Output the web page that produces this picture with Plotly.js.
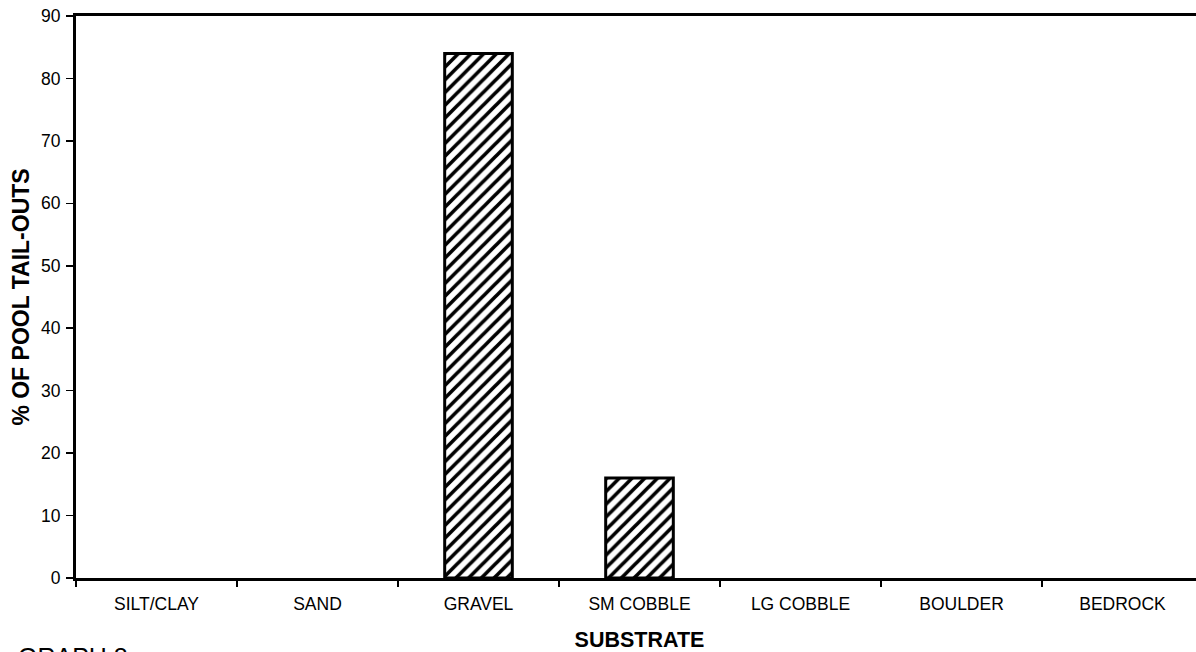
<!DOCTYPE html>
<html><head><meta charset="utf-8">
<script src="https://cdn.plot.ly/plotly-3.0.1.min.js"></script>
<style>html,body{margin:0;padding:0;overflow:hidden;background:#fff;width:1196px;height:652px}</style>
</head><body>
<div id="chart" style="width:1204px;height:652px"></div>
<script>
const categories = ["SILT/CLAY","SAND","GRAVEL","SM COBBLE","LG COBBLE","BOULDER","BEDROCK"];
const values = [0, 0, 84, 16, 0, 0, 0];
const yTicks = [0,10,20,30,40,50,60,70,80,90];

const trace = {
  type: 'bar', x: categories, y: values, width: 0.42,
  marker: { color: '#ffffff', line: {color: '#000', width: values.map(v => v > 0 ? 3 : 0)},
    pattern: {shape: '/', fgcolor: '#000', bgcolor: '#fff', size: 9, solidity: 0.4} },
  hoverinfo: 'none'
};
const layout = {
  width: 1204, height: 652,
  margin: {l: 76, r: 1, t: 16, b: 74},
  paper_bgcolor: '#fff', plot_bgcolor: '#fff',
  font: {family: 'Liberation Sans, Arial, sans-serif', color: '#000'},
  showlegend: false,
  xaxis: {
    type: 'category', tickson: 'boundaries', ticks: 'outside', ticklen: 6, tickwidth: 1.5, tickcolor: '#000',
    showline: true, linewidth: 3, linecolor: '#000', mirror: true, showgrid: false, zeroline: false,
    tickfont: {size: 17.5}, ticklabelstandoff: 8,
    title: {text: 'SUBSTRATE', font: {size: 21.5, weight: 'bold'}, standoff: 19},
    range: [-0.5, 6.5]
  },
  yaxis: {
    range: [0, 90], tickvals: yTicks, ticks: 'outside', ticklen: 7, tickwidth: 1.5, tickcolor: '#000',
    showline: true, linewidth: 3, linecolor: '#000', mirror: true, showgrid: false, zeroline: false,
    tickfont: {size: 17.5}, ticklabelstandoff: 2,
    title: {text: '% OF POOL TAIL-OUTS', font: {size: 23, weight: 'bold'}, standoff: 5}
  },
  annotations: [{text: 'GRAPH 8', xref: 'paper', yref: 'paper', x: -0.053, y: -0.112, xanchor: 'left', yanchor: 'top',
    showarrow: false, font: {size: 25}}]
};
Plotly.newPlot('chart', [trace], layout, {staticPlot: true});
</script>
</body></html>
